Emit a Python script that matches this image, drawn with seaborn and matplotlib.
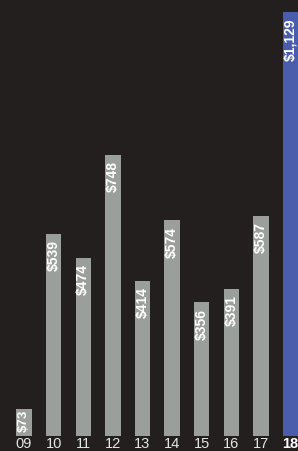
import matplotlib
matplotlib.use("Agg")
import matplotlib.pyplot as plt
import seaborn as sns
import pandas as pd

years = ["09", "10", "11", "12", "13", "14", "15", "16", "17", "18"]
values = [73, 539, 474, 748, 414, 574, 356, 391, 587, 1129]
labels = ["$73", "$539", "$474", "$748", "$414", "$574", "$356", "$391", "$587", "$1,129"]

BG = "#231f1f"
GRAY = "#9b9f9b"
BLUE = "#4a5cac"

sns.set_style("dark")
plt.rcParams["font.family"] = ["Liberation Sans", "DejaVu Sans"]

df = pd.DataFrame({"year": years, "value": values})
colors = {y: (BLUE if y == "18" else GRAY) for y in years}

fig = plt.figure(figsize=(2.98, 4.51), dpi=100)
fig.patch.set_facecolor(BG)
ax = fig.add_axes([0, 15 / 451, 1, 436 / 451])
ax.set_facecolor(BG)

sns.barplot(data=df, x="year", y="value", hue="year", palette=colors,
            legend=False, width=0.52, ax=ax, saturation=1, linewidth=0)

ax.set_xlim(-0.81, 9.25)
ax.set_ylim(0, 1161)
for s in ax.spines.values():
    s.set_visible(False)
ax.set_yticks([])
ax.set_xlabel("")
ax.set_ylabel("")
ax.grid(False)
ax.tick_params(axis="x", length=0, pad=1.0, labelsize=10.5, colors="#e6e6e6")
for t in ax.get_xticklabels():
    if t.get_text() == "18":
        t.set_fontweight("bold")
        t.set_color("white")

for i, (v, lab) in enumerate(zip(values, labels)):
    off = -4.5 if v > 150 else -0.8
    fs = 10 if v > 150 else 9.5
    ax.annotate(lab, (i, v), xytext=(0, off), textcoords="offset points",
                rotation=90, ha="center", va="top", color="white",
                fontsize=fs, fontweight="bold")

fig.savefig("out.png", dpi=100, facecolor=BG)
